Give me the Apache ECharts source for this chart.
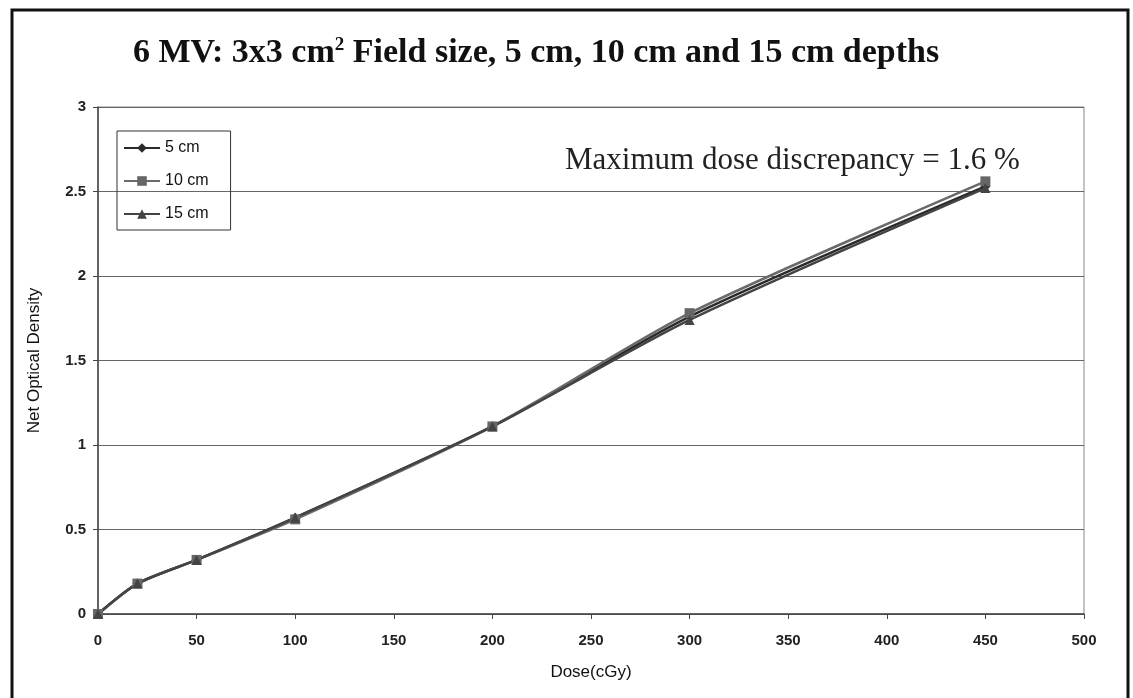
<!DOCTYPE html>
<html>
<head>
<meta charset="utf-8">
<script src="https://cdn.jsdelivr.net/npm/echarts@6/dist/echarts.min.js"></script>
<style>
html,body{margin:0;padding:0;background:#fff;}
#main{width:1133px;height:698px;}
</style>
</head>
<body>
<div id="main"></div>
<script>
// 剂量点 (cGy)
var doses = [0, 20, 50, 100, 200, 300, 450];
// 各深度净光密度
var od5 = [0, 0.18, 0.32, 0.57, 1.11, 1.76, 2.53];
var od10 = [0, 0.18, 0.32, 0.56, 1.11, 1.78, 2.56];
var od15 = [0, 0.18, 0.32, 0.57, 1.11, 1.74, 2.52];
var seriesNames = ['5 cm', '10 cm', '15 cm'];

function pairs(ys){
	return doses.map(function(d, i){ return [d, ys[i]]; });
}

var chart = echarts.init(document.getElementById('main'));
var option = {
	backgroundColor: '#fff',
	animation: false,
	title: {
		text: '{t|6 MV: 3x3 cm}{s|2}{t| Field size, 5 cm, 10 cm and 15 cm depths}',
		left: 128,
		top: 31,
		textStyle: {
			rich: {
				t: {fontFamily: 'Liberation Serif', fontWeight: 'bold', fontSize: 34, color: '#111'},
				s: {fontFamily: 'Liberation Serif', fontWeight: 'bold', fontSize: 19, color: '#111', verticalAlign: 'top', padding: [0, 0, 16, 0]}
			}
		}
	},
	legend: {
		orient: 'vertical',
		left: 117,
		top: 131,
		itemWidth: 36,
		itemHeight: 12,
		itemGap: 17,
		padding: [9, 22, 8, 6],
		borderColor: '#333',
		borderWidth: 1,
		textStyle: {fontFamily: 'Liberation Sans', fontSize: 16, color: '#111'},
		data: seriesNames
	},
	grid: {left: 98, right: 49, top: 107, bottom: 84},
	xAxis: {
		type: 'value',
		min: 0, max: 500, interval: 50,
		name: 'Dose(cGy)',
		nameLocation: 'middle',
		nameGap: 50,
		nameTextStyle: {fontFamily: 'Liberation Sans', fontSize: 17, color: '#111'},
		axisLine: {lineStyle: {color: '#444', width: 1.5}},
		axisTick: {show: true, length: 5, lineStyle: {color: '#444'}},
		axisLabel: {fontFamily: 'Liberation Sans', fontSize: 15, fontWeight: 'bold', color: '#222', margin: 19},
		splitLine: {show: false}
	},
	yAxis: {
		type: 'value',
		min: 0, max: 3, interval: 0.5,
		name: 'Net Optical Density',
		nameLocation: 'middle',
		nameGap: 55,
		nameTextStyle: {fontFamily: 'Liberation Sans', fontSize: 17, color: '#111'},
		axisLine: {show: true, lineStyle: {color: '#444', width: 1.5}},
		axisTick: {show: true, length: 5, lineStyle: {color: '#444'}},
		axisLabel: {fontFamily: 'Liberation Sans', fontSize: 15, fontWeight: 'bold', color: '#222', margin: 12},
		splitLine: {show: true, lineStyle: {color: '#666', width: 1.2}}
	},
	graphic: [
		{type: 'rect', shape: {x: 12, y: 10, width: 1116, height: 700}, style: {fill: 'none', stroke: '#111', lineWidth: 3}, z: 0},
		{type: 'rect', shape: {x: 98, y: 107, width: 986, height: 507}, style: {fill: 'none', stroke: '#888', lineWidth: 1}, z: 0},
		{type: 'text', left: 565, top: 145, style: {text: 'Maximum dose discrepancy = 1.6 %', fontFamily: 'Liberation Serif', fontSize: 31, fill: '#222'}}
	],
	series: [
		{name: seriesNames[0], type: 'line', smooth: 0.25, data: pairs(od5), symbol: 'diamond', symbolSize: 10,
			lineStyle: {color: '#2a2a2a', width: 2.5}, itemStyle: {color: '#2a2a2a'}},
		{name: seriesNames[1], type: 'line', smooth: 0.25, data: pairs(od10), symbol: 'rect', symbolSize: 10,
			lineStyle: {color: '#6a6a6a', width: 2.5}, itemStyle: {color: '#666'}},
		{name: seriesNames[2], type: 'line', smooth: 0.25, data: pairs(od15), symbol: 'triangle', symbolSize: 10,
			lineStyle: {color: '#444', width: 2.5}, itemStyle: {color: '#444'}}
	]
};
chart.setOption(option);
</script>
</body>
</html>
